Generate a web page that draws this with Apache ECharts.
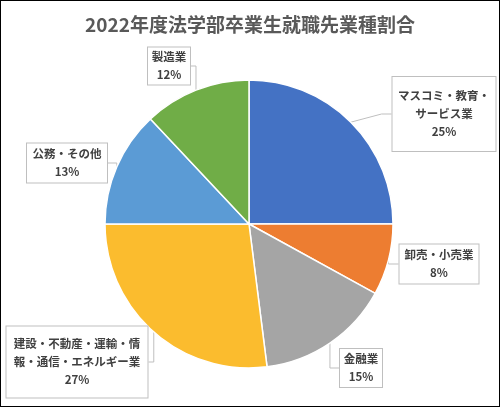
<!DOCTYPE html>
<html>
<head>
<meta charset="utf-8">
<script src="https://cdn.jsdelivr.net/npm/echarts@6/dist/echarts.min.js"></script>
<style>
  html, body { margin: 0; padding: 0; background: #fff; }
  #chart { width: 500px; height: 407px; box-sizing: border-box; border: 1px solid #000; }
</style>
</head>
<body>
<div id="chart"></div>
<script>
var titleText = '2022年度法学部卒業生就職先業種割合';
var categories = [
  'マスコミ・教育・サービス業',
  '卸売・小売業',
  '金融業',
  '建設・不動産・運輸・情報・通信・エネルギー業',
  '公務・その他',
  '製造業'
];
var values = [25, 8, 15, 27, 13, 12];
var colors = ['#4472C4', '#ED7D31', '#A5A5A5', '#FBBC2E', '#5B9BD5', '#70AD47'];

// label text as wrapped in the reference boxes
var labelLines = [
  ['マスコミ・教育・', 'サービス業'],
  ['卸売・小売業'],
  ['金融業'],
  ['建設・不動産・運輸・情', '報・通信・エネルギー業'],
  ['公務・その他'],
  ['製造業']
];

// label box centres and sizes (px)
var boxPos = [[443, 113], [438, 263], [360, 367], [76, 361], [66, 162], [168, 65]];
var boxSize = [[103, 74], [79, 39], [42, 38], [141, 71], [80, 39], [42, 37]];

var chart = echarts.init(document.getElementById('chart'));

var data = values.map(function(v, i) {
  return {
    name: categories[i],
    value: v,
    itemStyle: { color: colors[i] },
    label: {
      width: boxSize[i][0],
      height: boxSize[i][1]
    }
  };
});

chart.setOption({
  animation: false,
  title: {
    text: titleText,
    left: 'center',
    top: 9,
    textStyle: {
      fontFamily: 'Noto Sans CJK JP',
      fontSize: 19,
      fontWeight: 'bold',
      color: '#595959'
    }
  },
  series: [{
    type: 'pie',
    center: [248, 223],
    radius: 144,
    startAngle: 90,
    clockwise: true,
    avoidLabelOverlap: false,
    itemStyle: { borderColor: '#fff', borderWidth: 1.5 },
    label: {
      show: true,
      position: 'outside',
      formatter: function(p) {
        return labelLines[p.dataIndex].join('\n') + '\n' + Math.round(p.percent) + '%';
      },
      fontFamily: 'Noto Sans CJK JP',
      fontSize: 11.5,
      fontWeight: 'bold',
      color: '#404040',
      lineHeight: 18,
      align: 'center',
      verticalAlign: 'middle',
      backgroundColor: '#fff',
      borderColor: '#bfbfbf',
      borderWidth: 1
    },
    labelLine: {
      show: true,
      length: 10,
      length2: 10,
      lineStyle: { color: '#bfbfbf', width: 1 }
    },
    labelLayout: function(params) {
      var i = params.dataIndex;
      return {
        x: boxPos[i][0],
        y: boxPos[i][1],
        align: 'center',
        verticalAlign: 'middle'
      };
    },
    data: data
  }]
});
</script>
</body>
</html>
